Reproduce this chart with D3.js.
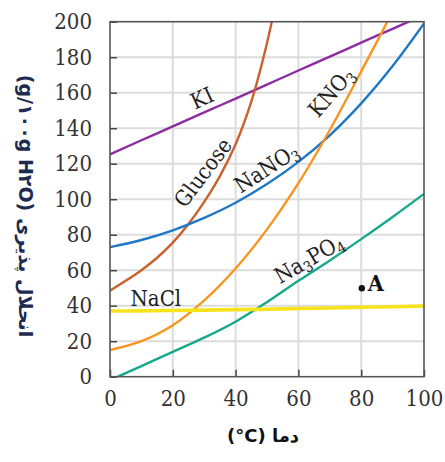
<!DOCTYPE html>
<meta charset="utf-8">
<style>
body {
  margin: 0;
  background: #fff;
}
</style>
<body>
<script src="https://cdn.jsdelivr.net/npm/d3@7/dist/d3.min.js"></script>
<script>

// temperature (°C) and solubility (g / 100 g H2O)
var temps      = [0, 10, 20, 30, 40, 50, 60, 70, 80, 90, 100];
var kiVals     = [125.3, 133.2, 141, 148.9, 156.7, 164.6, 172.5, 180.3, 188.2, 196, 203.9];
var nano3Vals  = [73, 77, 82.5, 89.5, 98, 108.5, 121, 136, 154, 175, 199];
var kno3Vals   = [15, 20, 29, 43, 61, 83, 109, 139, 172, 206, 245];
var naclVals   = [37, 37.1, 37.3, 37.5, 37.8, 38, 38.4, 38.7, 39.1, 39.4, 39.8];
var glucoseT    = [0, 5, 10, 15, 20, 25, 30, 35, 40, 45, 50, 55];
var glucoseVals = [48.5, 54, 60, 67, 75.5, 86, 98.5, 113, 131, 155, 188, 230];
var na3po4T    = [2.5, 10, 20, 30, 40, 50, 60, 70, 80, 90, 100];
var na3po4Vals = [0, 6, 14, 22, 31, 42, 54, 65.5, 77.5, 90, 103];

var pointA = [80.2, 49.8];

var xTicks = [0, 20, 40, 60, 80, 100];
var yTicks = [0, 20, 40, 60, 80, 100, 120, 140, 160, 180, 200];

var width = 445,
    height = 462;

var margin = {top: 21.7, right: 21, bottom: 85.3, left: 110};
var w = width - margin.left - margin.right,
    h = height - margin.top - margin.bottom;

var x = d3.scaleLinear().domain([0, 100]).range([0, w]);
var y = d3.scaleLinear().domain([0, 200]).range([h, 0]);

function zip(xs, ys) {
  return xs.map(function(d, i) { return [d, ys[i]]; });
}

var series = [
  {name: "KI",      pts: zip(temps, kiVals),        color: "#8d2ba1", width: 2.4},
  {name: "glucose", pts: zip(glucoseT, glucoseVals), color: "#c9622b", width: 2.4},
  {name: "NaNO3",   pts: zip(temps, nano3Vals),     color: "#1f78c6", width: 2.4},
  {name: "KNO3",    pts: zip(temps, kno3Vals),      color: "#f8951f", width: 2.4},
  {name: "Na3PO4",  pts: zip(na3po4T, na3po4Vals),  color: "#16a88b", width: 2.4},
  {name: "NaCl",    pts: zip(temps, naclVals),      color: "#f7e31c", width: 3.6}
];

var svg = d3.select("body").append("svg")
    .attr("width", width)
    .attr("height", height);

var g = svg.append("g")
    .attr("transform", "translate(" + margin.left + "," + margin.top + ")");

svg.append("defs").append("clipPath")
    .attr("id", "plot-clip")
  .append("rect")
    .attr("width", w)
    .attr("height", h);

// grid
g.selectAll(".vgrid")
  .data(xTicks.slice(1, -1))
  .enter().append("line")
    .attr("x1", function(d) { return x(d); })
    .attr("x2", function(d) { return x(d); })
    .attr("y1", 0)
    .attr("y2", h)
    .style("stroke", "#dcdcdc")
    .style("stroke-width", 2);

g.selectAll(".hgrid")
  .data(yTicks.slice(1, -1))
  .enter().append("line")
    .attr("x1", 0)
    .attr("x2", w)
    .attr("y1", function(d) { return y(d); })
    .attr("y2", function(d) { return y(d); })
    .style("stroke", "#dcdcdc")
    .style("stroke-width", 2);

// axes with inner ticks
var xAxis = d3.axisBottom(x).tickValues(xTicks).tickSize(-7).tickPadding(14);
var yAxis = d3.axisLeft(y).tickValues(yTicks).tickSize(-7).tickPadding(18);

function styleAxis(sel) {
  sel.attr("font-family", "DejaVu Serif Condensed, DejaVu Serif").attr("font-size", 22);
  sel.select(".domain").remove();
  sel.selectAll(".tick line").style("stroke", "#444").style("stroke-width", 1.5);
  sel.selectAll(".tick text").style("fill", "#333");
}

g.append("g")
    .attr("transform", "translate(0," + h + ")")
    .call(xAxis)
    .call(styleAxis);

g.append("g")
    .call(yAxis)
    .call(styleAxis);

// curves
var line = d3.line()
    .x(function(d) { return x(d[0]); })
    .y(function(d) { return y(d[1]); })
    .curve(d3.curveCatmullRom.alpha(0.5));

g.append("g")
    .attr("clip-path", "url(#plot-clip)")
  .selectAll("path")
  .data(series)
  .enter().append("path")
    .attr("d", function(d) { return line(d.pts); })
    .style("fill", "none")
    .style("stroke", function(d) { return d.color; })
    .style("stroke-width", function(d) { return d.width; });

// frame
g.append("rect")
    .attr("width", w)
    .attr("height", h)
    .style("fill", "none")
    .style("stroke", "#555")
    .style("stroke-width", 1.6);

// curve labels: [data x, data y, angle, text parts]
var labels = [
  {at: [29.3, 157],  angle: -25, parts: [["KI"]]},
  {at: [29.6, 115],  angle: -53, parts: [["Glucose"]]},
  {at: [49.8, 117.6], angle: -33, parts: [["NaNO"], ["3", "sub"]]},
  {at: [70.4, 160.4], angle: -49, parts: [["KNO"], ["3", "sub"]]},
  {at: [63.4, 66.5], angle: -30, parts: [["Na"], ["3", "sub"], ["PO"], ["4", "sub"]]},
  {at: [14.6, 44.4], angle: 0,   parts: [["NaCl"]]}
];

labels.forEach(function(l) {
  var t = g.append("text")
      .attr("text-anchor", "middle")
      .attr("dy", "0.35em")
      .attr("transform", "translate(" + x(l.at[0]) + "," + y(l.at[1]) + ")rotate(" + l.angle + ")")
      .attr("font-family", "DejaVu Serif Condensed, DejaVu Serif")
      .attr("font-size", 22)
      .style("fill", "#222");
  l.parts.forEach(function(p) {
    var s = t.append("tspan").text(p[0]);
    if (p[1] === "sub") {
      s.attr("baseline-shift", "-25%").attr("font-size", 15);
    }
  });
});

// point A
g.append("circle")
    .attr("cx", x(pointA[0]))
    .attr("cy", y(pointA[1]))
    .attr("r", 3.2)
    .style("fill", "#111");

g.append("text")
    .attr("x", x(pointA[0]) + 6)
    .attr("y", y(pointA[1]) + 3)
    .attr("font-family", "DejaVu Serif Condensed, DejaVu Serif")
    .attr("font-size", 23)
    .attr("font-weight", "bold")
    .style("fill", "#111")
    .text("A");

// axis titles (LTR paragraph, so the Persian run sits to the right)
svg.append("text")
    .attr("transform", "translate(263,442)")
    .attr("text-anchor", "middle")
    .attr("font-family", "DejaVu Sans")
    .attr("font-size", 18)
    .attr("font-weight", "bold")
    .style("fill", "#111")
    .text("(°C) دما");

svg.append("text")
    .attr("transform", "translate(19,206)rotate(90)")
    .attr("text-anchor", "middle")
    .attr("font-family", "DejaVu Sans")
    .attr("font-size", 19)
    .attr("font-weight", "bold")
    .style("fill", "#1c2b4f")
    .text("(g/۱۰۰g H۲O) انحلال پذیری");

</script>
